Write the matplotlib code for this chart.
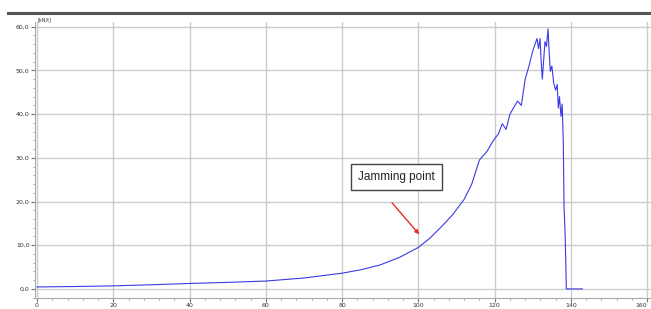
import matplotlib
matplotlib.use("Agg")
import matplotlib.pyplot as plt
from matplotlib.ticker import MultipleLocator, FuncFormatter
from matplotlib.lines import Line2D

# Data
x_vals = [0, 10, 20, 30, 40, 50, 60, 70, 80, 85, 90, 95, 100, 103, 106, 109, 112, 114, 116, 118,
          119.6, 121, 122, 123, 124, 125, 126, 127, 128, 129, 130, 130.6, 131.1, 131.5, 131.9,
          132.2, 132.5, 132.9, 133.2, 133.6, 134, 134.3, 134.6, 135, 135.5, 136, 136.4, 136.7,
          137, 137.4, 137.7, 138, 138.2, 138.5, 138.8, 140, 143]
y_vals = [0.45, 0.55, 0.7, 0.95, 1.25, 1.5, 1.8, 2.5, 3.6, 4.4, 5.5, 7.2, 9.5, 11.6, 14.2, 17.0, 20.5, 24.0, 29.5, 31.5,
          33.9, 35.5, 37.8, 36.5, 40.0, 41.5, 43.0, 42.0, 48.0, 51.0, 54.5, 56.0, 57.3, 55.0, 57.3,
          52.0, 48.0, 53.0, 56.6, 55.5, 59.5, 54.0, 49.8, 51.0, 47.0, 45.5, 46.8, 41.4,
          44.0, 39.5, 42.3, 33.9, 18.6, 12.0, 0.0, 0.0, 0.0]

x_ticks = [0, 20, 40, 60, 80, 100, 120, 140, 160]
y_ticks = [0, 10, 20, 30, 40, 50, 60]
unit_label = "[kN/t]"
annotation_text = "Jamming point"
arrow_tip = (100.7, 12.0)
arrow_tail = (92.6, 20.2)
text_pos = (94.2, 25.7)

fig = plt.figure(figsize=(6.51, 3.09), dpi=100)
ax = fig.add_axes([0.054, 0.036, 0.946, 0.893])

ax.plot(x_vals, y_vals, color="#3a3ae8", lw=0.8)

ax.set_xlim(-0.5, 161)
ax.set_ylim(-2.05, 61.1)
ax.set_xticks(x_ticks)
ax.set_yticks(y_ticks)
ax.xaxis.set_minor_locator(MultipleLocator(4))
ax.yaxis.set_minor_locator(MultipleLocator(2))
ax.yaxis.set_major_formatter(FuncFormatter(lambda v, p: f"{v:.1f}".replace(".", ",")))
ax.grid(True, which="major", color="#cccccc", lw=1.0)
ax.tick_params(axis="both", which="major", labelsize=4.5, length=3, color="#777777", labelcolor="#333333")
ax.tick_params(axis="both", which="minor", length=1.5, color="#999999")
ax.tick_params(axis="x", pad=1)
ax.tick_params(axis="y", pad=1)
xlabels = ax.get_xticklabels()
xlabels[-1].set_horizontalalignment("right")
for s in ["top", "right"]:
    ax.spines[s].set_visible(False)
for s in ["left", "bottom"]:
    ax.spines[s].set_color("#aaaaaa")
    ax.spines[s].set_linewidth(0.8)

ax.annotate("", xy=arrow_tip, xytext=arrow_tail,
            arrowprops=dict(arrowstyle="-|>", color="#e03030", lw=1.0, mutation_scale=6))
ax.text(text_pos[0], text_pos[1], annotation_text, ha="center", va="center", fontsize=8.5,
        family="Liberation Sans", color="#222222",
        bbox=dict(boxstyle="square,pad=0.6", fc="white", ec="#444444", lw=1.0))

fig.text(38 / 651, 1 - 20 / 309, unit_label, fontsize=3.5, color="#333333", va="center", ha="left")
fig.add_artist(Line2D([8 / 651, 1.0], [1 - 13 / 309, 1 - 13 / 309], color="#555555", lw=2.2))

fig.savefig("out.png", dpi=100)
